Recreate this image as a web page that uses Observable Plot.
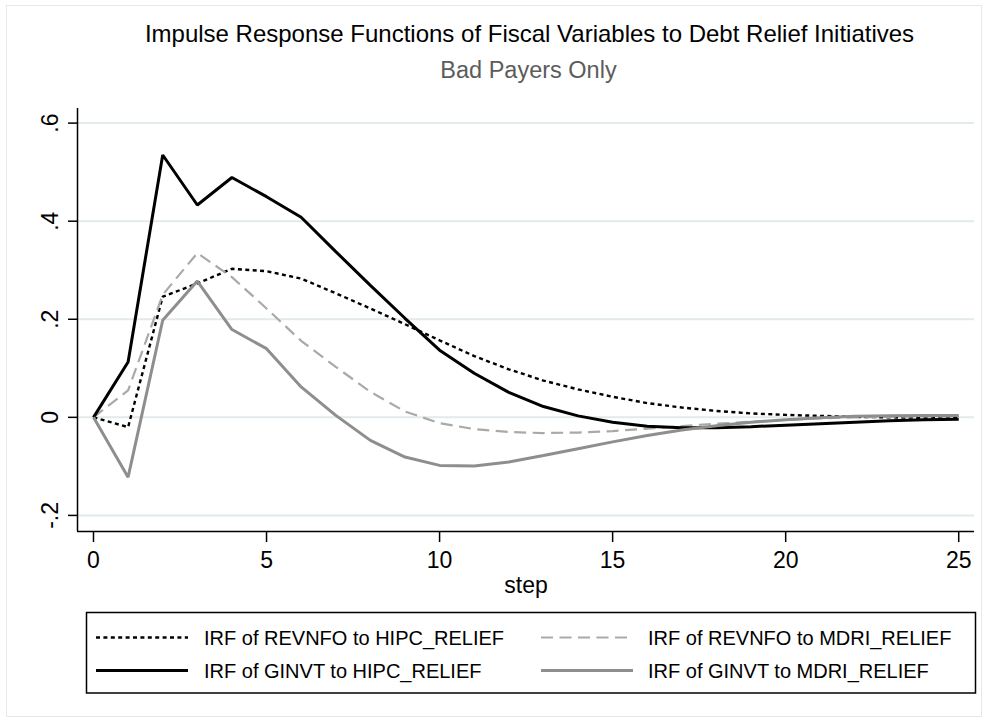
<!DOCTYPE html>
<html>
<head>
<meta charset="utf-8">
<script src="https://cdn.jsdelivr.net/npm/d3@7"></script>
<script src="https://cdn.jsdelivr.net/npm/@observablehq/plot@0.6"></script>
<style>
  html, body { margin: 0; padding: 0; background: #fff; }
  #wrap { position: relative; width: 987px; height: 722px; overflow: hidden; font-family: "Liberation Sans", Arial, sans-serif; }
  #chart { position: absolute; left: 0; top: 0; }
  #overlay { position: absolute; left: 0; top: 0; pointer-events: none; }
</style>
</head>
<body>
<div id="wrap">
  <div id="chart"></div>
  <svg id="overlay" width="987" height="722"></svg>
</div>
<script>
// ---------- data ----------
const steps = [0,1,2,3,4,5,6,7,8,9,10,11,12,13,14,15,16,17,18,19,20,21,22,23,24,25];
const irfRevnfoHipc = [0, -0.020, 0.246, 0.273, 0.303, 0.298, 0.283, 0.253, 0.222, 0.190, 0.157, 0.125, 0.098, 0.075, 0.057, 0.042, 0.029, 0.020, 0.013, 0.008, 0.005, 0.003, 0.001, 0.000, -0.001, -0.002];
const irfRevnfoMdri = [0, 0.055, 0.250, 0.335, 0.286, 0.222, 0.156, 0.103, 0.052, 0.012, -0.012, -0.024, -0.030, -0.032, -0.031, -0.028, -0.023, -0.018, -0.013, -0.009, -0.005, -0.002, 0.000, 0.001, 0.002, 0.002];
const irfGinvtHipc = [0, 0.113, 0.535, 0.433, 0.489, 0.450, 0.408, 0.338, 0.269, 0.202, 0.137, 0.090, 0.051, 0.022, 0.003, -0.010, -0.018, -0.021, -0.021, -0.019, -0.016, -0.013, -0.010, -0.007, -0.005, -0.004];
const irfGinvtMdri = [0, -0.122, 0.198, 0.278, 0.179, 0.140, 0.062, 0.004, -0.047, -0.081, -0.098, -0.099, -0.091, -0.078, -0.064, -0.050, -0.037, -0.026, -0.017, -0.010, -0.005, -0.001, 0.002, 0.003, 0.004, 0.004];
const seriesNames = ["IRF of REVNFO to HIPC_RELIEF", "IRF of REVNFO to MDRI_RELIEF", "IRF of GINVT to HIPC_RELIEF", "IRF of GINVT to MDRI_RELIEF"];
const xTicks = [0, 5, 10, 15, 20, 25];
const yTicks = [-0.2, 0, 0.2, 0.4, 0.6];
const yTickLabels = ["-.2", "0", ".2", ".4", ".6"];
const titleText = "Impulse Response Functions of Fiscal Variables to Debt Relief Initiatives";
const subtitleText = "Bad Payers Only";
const xLabel = "step";

// ---------- styles ----------
const seriesValues = [irfRevnfoHipc, irfRevnfoMdri, irfGinvtHipc, irfGinvtMdri];
const seriesStyles = [
  {stroke: "#000000", strokeWidth: 2.4, dash: "4,3.4"},
  {stroke: "#a9a9a9", strokeWidth: 2.2, dash: "12,6.5"},
  {stroke: "#000000", strokeWidth: 3, dash: null},
  {stroke: "#8e8e8e", strokeWidth: 3, dash: null}
];
const xDomain = [-0.462, 25.456];
const yDomain = [-0.2328, 0.6298];

const rows = [];
seriesNames.forEach((name, k) => {
  steps.forEach((s, i) => rows.push({series: name, k, step: s, value: seriesValues[k][i]}));
});

const lineMarks = seriesNames.map((name, k) =>
  Plot.line(rows.filter(r => r.k === k), {
    x: "step", y: "value",
    stroke: seriesStyles[k].stroke,
    strokeWidth: seriesStyles[k].strokeWidth,
    strokeDasharray: seriesStyles[k].dash,
    strokeLinejoin: "miter", strokeLinecap: "butt"
  })
);

const chart = Plot.plot({
  width: 987,
  height: 722,
  marginLeft: 77,
  marginRight: 13,
  marginTop: 108,
  marginBottom: 191,
  style: {fontFamily: "'Liberation Sans', Arial, sans-serif", background: "transparent", color: "#000"},
  x: {domain: xDomain},
  y: {domain: yDomain},
  marks: [
    Plot.gridY(yTicks, {stroke: "#e2eaed", strokeOpacity: 1, strokeWidth: 2}),
    Plot.ruleX([xDomain[0]], {stroke: "#000", strokeWidth: 1.5}),
    Plot.ruleY([yDomain[0]], {stroke: "#000", strokeWidth: 1.5}),
    Plot.axisX(xTicks, {tickSize: 11, tickPadding: 9, fontSize: 23, label: null, strokeWidth: 1.5}),
    Plot.axisY(yTicks, {tickSize: 9, tickFormat: () => "", label: null, strokeWidth: 1.5}),
    Plot.text(yTicks, {frameAnchor: "left", y: d => d, text: (d, i) => yTickLabels[i], rotate: -90, textAnchor: "middle", lineAnchor: "bottom", dx: -20, fontSize: 23, fill: "#000"}),
    Plot.text([xLabel], {frameAnchor: "bottom", text: d => d, lineAnchor: "top", dy: 45, fontSize: 23, fill: "#000"}),
    ...lineMarks
  ]
});
document.getElementById("chart").appendChild(chart);

// ---------- title, subtitle, legend, border ----------
const ov = d3.select("#overlay").style("font-family", "'Liberation Sans', Arial, sans-serif");
ov.append("rect").attr("x", 6.5).attr("y", 5.5).attr("width", 975).attr("height", 711)
  .attr("fill", "none").attr("stroke", "#e3eaee").attr("stroke-width", 1);
ov.append("text").attr("x", 529.5).attr("y", 42).attr("text-anchor", "middle")
  .attr("font-size", 24).attr("fill", "#000").text(titleText);
ov.append("text").attr("x", 528.5).attr("y", 78).attr("text-anchor", "middle")
  .attr("font-size", 23.5).attr("fill", "#5c5c5c").text(subtitleText);

ov.append("rect").attr("x", 86.5).attr("y", 612.5).attr("width", 889).attr("height", 80.5)
  .attr("fill", "none").attr("stroke", "#000").attr("stroke-width", 1.5);
const legendCols = [{x0: 96, x1: 188, tx: 204}, {x0: 541, x1: 633, tx: 648}];
const legendRows = [637.5, 670.5];
// order: row1 = series 0,1 ; row2 = series 2,3
seriesNames.forEach((name, k) => {
  const col = legendCols[k % 2], ry = legendRows[Math.floor(k / 2)];
  const st = seriesStyles[k];
  ov.append("line").attr("x1", col.x0).attr("x2", col.x1).attr("y1", ry).attr("y2", ry)
    .attr("stroke", st.stroke).attr("stroke-width", st.strokeWidth)
    .attr("stroke-dasharray", st.dash);
  ov.append("text").attr("x", col.tx).attr("y", ry + 7.2).attr("font-size", 20)
    .attr("fill", "#000").text(name);
});
</script>
</body>
</html>
